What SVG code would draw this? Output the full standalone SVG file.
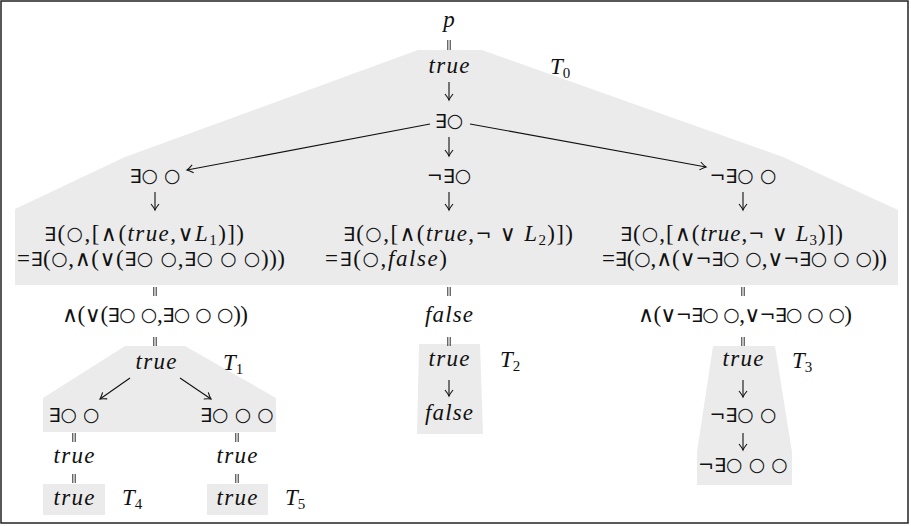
<svg xmlns="http://www.w3.org/2000/svg" width="911" height="526" viewBox="0 0 911 526">
<style>
.t{font-family:"Liberation Serif","DejaVu Serif",serif;font-size:23px;fill:#111}
.i{font-style:italic}
.s{font-family:"DejaVu Sans",sans-serif;font-size:19px}
.o{font-family:"DejaVu Sans",sans-serif;font-size:22px}
.c{font-family:"DejaVu Sans",sans-serif;font-size:19px;baseline-shift:1px}
.sub{font-size:15px}
.bg{fill:#ebebeb;stroke:none}
.ln{stroke:#111;stroke-width:1.1;fill:none}
.eq{stroke:#111;stroke-width:0.9;fill:none}
</style>
<defs>
<marker id="ah" markerUnits="userSpaceOnUse" markerWidth="12" markerHeight="12" refX="0" refY="0" viewBox="-8 -6 10 12" orient="auto">
<path d="M-6,-4 Q-2,-0.8 0,0 Q-2,0.8 -6,4" stroke="#111" stroke-width="1.1" fill="none"/>
</marker>
</defs>
<rect x="1" y="1" width="907" height="522" fill="#fff" stroke="#222" stroke-width="1.5"/>
<g id="backgrounds">
<polygon class="bg" points="418,50 482,50 783,157 898,210 898,285 15,285 15,209 125,157"/>
<polygon class="bg" points="125,346 185,346 276,398 276,432 43,432 43,398"/>
<polygon class="bg" points="419,344 480,344 483,434 417,434"/>
<polygon class="bg" points="713,346 775,346 792,452 792,485 697,485 697,452"/>
<rect class="bg" x="43" y="484" width="62" height="31"/>
<rect class="bg" x="207" y="484" width="61" height="31"/>
</g>
<g id="connectors">
<path class="eq" d="M447.8,40V50M450.2,40V50M447.8,287V296M450.2,287V296M447.8,337V346M450.2,337V346M153.8,287V296M156.2,287V296M153.8,337V346M156.2,337V346M741.8,287V296M744.2,287V296M741.8,337V346M744.2,337V346M72.8,433V442M75.2,433V442M235.8,433V442M238.2,433V442M72.8,474V483M75.2,474V483M235.8,474V483M238.2,474V483"/>
<path class="ln" marker-end="url(#ah)" d="M449,82V100"/>
<path class="ln" marker-end="url(#ah)" d="M449,137V156"/>
<path class="ln" marker-end="url(#ah)" d="M449,192V210"/>
<path class="ln" marker-end="url(#ah)" d="M155,192V210"/>
<path class="ln" marker-end="url(#ah)" d="M743,192V210"/>
<path class="ln" marker-end="url(#ah)" d="M449,380V396"/>
<path class="ln" marker-end="url(#ah)" d="M743,380V397"/>
<path class="ln" marker-end="url(#ah)" d="M743,433V450"/>
<path class="ln" marker-end="url(#ah)" d="M430,124L187,170"/>
<path class="ln" marker-end="url(#ah)" d="M470,124L706,167"/>
<path class="ln" marker-end="url(#ah)" d="M130,378L100,399"/>
<path class="ln" marker-end="url(#ah)" d="M180,378L211,399"/>
</g>
<g id="labels">
<text class="t" x="550" y="74"><tspan class="i">T</tspan><tspan class="sub" dy="4">0</tspan></text>
<text class="t" x="223" y="370"><tspan class="i">T</tspan><tspan class="sub" dy="4">1</tspan></text>
<text class="t" x="500" y="367"><tspan class="i">T</tspan><tspan class="sub" dy="4">2</tspan></text>
<text class="t" x="792" y="368"><tspan class="i">T</tspan><tspan class="sub" dy="4">3</tspan></text>
<text class="t" x="122" y="505"><tspan class="i">T</tspan><tspan class="sub" dy="4">4</tspan></text>
<text class="t" x="285" y="505"><tspan class="i">T</tspan><tspan class="sub" dy="4">5</tspan></text>
</g>
<g id="n-p"><text class="t i" x="449" y="27" text-anchor="middle">p</text></g>
<g id="n-true0"><text class="t i" x="449" y="73" text-anchor="middle" textLength="41">true</text></g>
<g id="n-e"><text class="t" x="449" y="128" text-anchor="middle"><tspan class="s">∃</tspan><tspan class="c">○</tspan></text></g>
<g id="n-ee"><text class="t" x="155" y="183" text-anchor="middle"><tspan class="s">∃</tspan><tspan class="c">○ ○</tspan></text></g>
<g id="n-ne"><text class="t" x="449" y="183" text-anchor="middle"><tspan class="s">¬∃</tspan><tspan class="c">○</tspan></text></g>
<g id="n-nee"><text class="t" x="743" y="183" text-anchor="middle"><tspan class="s">¬∃</tspan><tspan class="c">○ ○</tspan></text></g>
<g id="n-f1">
<text class="t" x="44" y="241" textLength="200" lengthAdjust="spacing"><tspan class="s">∃</tspan>(<tspan class="c">○</tspan>,[<tspan class="o">∧</tspan>(<tspan class="i">true</tspan>,<tspan class="o">∨</tspan><tspan class="i">L</tspan><tspan class="sub" dy="4">1</tspan><tspan dy="-4">)])</tspan></text>
<text class="t" x="17" y="266" textLength="268" lengthAdjust="spacing">=<tspan class="s">∃</tspan>(<tspan class="c">○</tspan>,<tspan class="o">∧</tspan>(<tspan class="o">∨</tspan>(<tspan class="s">∃</tspan><tspan class="c">○ ○</tspan>,<tspan class="s">∃</tspan><tspan class="c">○ ○ ○</tspan>)))</text>
</g>
<g id="n-f2">
<text class="t" x="343" y="241" textLength="230" lengthAdjust="spacing"><tspan class="s">∃</tspan>(<tspan class="c">○</tspan>,[<tspan class="o">∧</tspan>(<tspan class="i">true</tspan>,<tspan class="s">¬</tspan> <tspan class="o">∨</tspan> <tspan class="i">L</tspan><tspan class="sub" dy="4">2</tspan><tspan dy="-4">)])</tspan></text>
<text class="t" x="325" y="266" textLength="122" lengthAdjust="spacing">=<tspan class="s">∃</tspan>(<tspan class="c">○</tspan>,<tspan class="i">false</tspan>)</text>
</g>
<g id="n-f3">
<text class="t" x="620" y="241" textLength="223" lengthAdjust="spacing"><tspan class="s">∃</tspan>(<tspan class="c">○</tspan>,[<tspan class="o">∧</tspan>(<tspan class="i">true</tspan>,<tspan class="s">¬</tspan> <tspan class="o">∨</tspan> <tspan class="i">L</tspan><tspan class="sub" dy="4">3</tspan><tspan dy="-4">)])</tspan></text>
<text class="t" x="602" y="266" textLength="285" lengthAdjust="spacing">=<tspan class="s">∃</tspan>(<tspan class="c">○</tspan>,<tspan class="o">∧</tspan>(<tspan class="o">∨</tspan><tspan class="s">¬∃</tspan><tspan class="c">○ ○</tspan>,<tspan class="o">∨</tspan><tspan class="s">¬∃</tspan><tspan class="c">○ ○ ○</tspan>))</text>
</g>
<g id="n-and1"><text class="t" x="155" y="322" text-anchor="middle" textLength="186" lengthAdjust="spacing"><tspan class="o">∧</tspan>(<tspan class="o">∨</tspan>(<tspan class="s">∃</tspan><tspan class="c">○ ○</tspan>,<tspan class="s">∃</tspan><tspan class="c">○ ○ ○</tspan>))</text></g>
<g id="n-false"><text class="t i" x="449" y="322" text-anchor="middle" textLength="48">false</text></g>
<g id="n-and3"><text class="t" x="745" y="322" text-anchor="middle" textLength="214" lengthAdjust="spacing"><tspan class="o">∧</tspan>(<tspan class="o">∨</tspan><tspan class="s">¬∃</tspan><tspan class="c">○ ○</tspan>,<tspan class="o">∨</tspan><tspan class="s">¬∃</tspan><tspan class="c">○ ○ ○</tspan>)</text></g>
<g id="n-true1"><text class="t i" x="156" y="369" text-anchor="middle" textLength="41">true</text></g>
<g id="n-t1a"><text class="t" x="74" y="422" text-anchor="middle"><tspan class="s">∃</tspan><tspan class="c">○ ○</tspan></text></g>
<g id="n-t1b"><text class="t" x="237" y="422" text-anchor="middle"><tspan class="s">∃</tspan><tspan class="c">○ ○ ○</tspan></text></g>
<g id="n-true4a"><text class="t i" x="74" y="463" text-anchor="middle" textLength="41">true</text></g>
<g id="n-true5a"><text class="t i" x="237" y="463" text-anchor="middle" textLength="41">true</text></g>
<g id="n-true4"><text class="t i" x="74" y="505" text-anchor="middle" textLength="41">true</text></g>
<g id="n-true5"><text class="t i" x="237" y="505" text-anchor="middle" textLength="41">true</text></g>
<g id="n-true2"><text class="t i" x="449" y="366" text-anchor="middle" textLength="41">true</text></g>
<g id="n-false2"><text class="t i" x="449" y="420" text-anchor="middle" textLength="48">false</text></g>
<g id="n-true3"><text class="t i" x="743" y="366" text-anchor="middle" textLength="41">true</text></g>
<g id="n-t3a"><text class="t" x="743" y="422" text-anchor="middle"><tspan class="s">¬∃</tspan><tspan class="c">○ ○</tspan></text></g>
<g id="n-t3b"><text class="t" x="743" y="472" text-anchor="middle"><tspan class="s">¬∃</tspan><tspan class="c">○ ○ ○</tspan></text></g>
</svg>
